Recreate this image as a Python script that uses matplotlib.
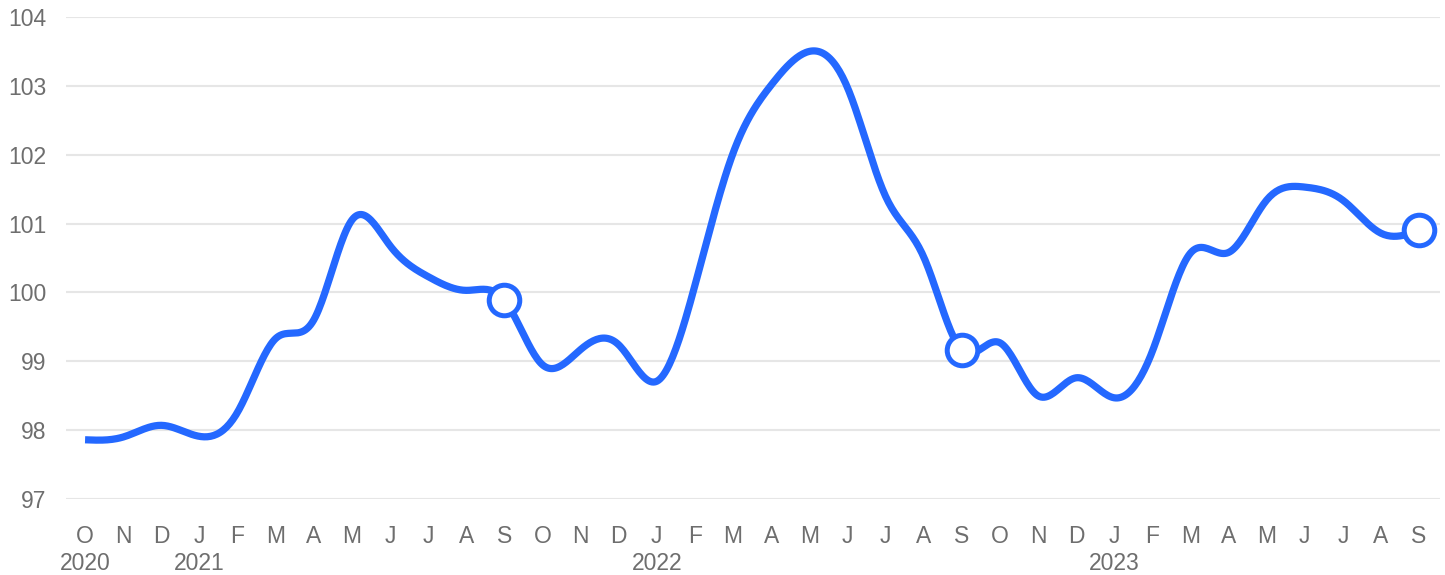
import numpy as np
import matplotlib
matplotlib.use("Agg")
import matplotlib.pyplot as plt

months = ['O', 'N', 'D', 'J', 'F', 'M', 'A', 'M', 'J', 'J', 'A', 'S'] * 3
years = {0: '2020', 3: '2021', 15: '2022', 27: '2023'}
values = [97.86, 97.90, 98.07, 97.91, 98.26, 99.33, 99.60, 101.05, 100.68, 100.23,
          100.03, 99.89, 98.95, 99.17, 99.24, 98.71, 100.10, 102.02, 103.01, 103.50,
          102.98, 101.40, 100.52, 99.16, 99.27, 98.50, 98.76, 98.47, 99.14, 100.57,
          100.58, 101.34, 101.53, 101.34, 100.86, 100.90]
marker_idx = [11, 23, 35]
yticks = [97, 98, 99, 100, 101, 102, 103, 104]

LINE = '#2468FF'
GRID = '#E6E6E6'
TXT = '#6E6E6E'

plt.rcParams['font.family'] = ['Liberation Sans', 'DejaVu Sans']


def natural_spline(x, y, n=24):
    x = np.asarray(x, float)
    y = np.asarray(y, float)
    N = len(x)
    h = np.diff(x)
    A = np.zeros((N, N))
    r = np.zeros(N)
    A[0, 0] = A[-1, -1] = 1
    for i in range(1, N - 1):
        A[i, i - 1] = h[i - 1]
        A[i, i] = 2 * (h[i - 1] + h[i])
        A[i, i + 1] = h[i]
        r[i] = 3 * ((y[i + 1] - y[i]) / h[i] - (y[i] - y[i - 1]) / h[i - 1])
    c = np.linalg.solve(A, r)
    xs, ys = [], []
    for i in range(N - 1):
        b = (y[i + 1] - y[i]) / h[i] - h[i] * (2 * c[i] + c[i + 1]) / 3
        d = (c[i + 1] - c[i]) / (3 * h[i])
        t = np.linspace(0, h[i], n, endpoint=False)
        xs.append(x[i] + t)
        ys.append(y[i] + b * t + c[i] * t ** 2 + d * t ** 3)
    xs.append([x[-1]])
    ys.append([y[-1]])
    return np.concatenate(xs), np.concatenate(ys)


W, H = 1445, 575
fig = plt.figure(figsize=(W / 100, H / 100), dpi=100)
ax = fig.add_axes([66 / W, (H - 499) / H, (1440 - 66) / W, (499 - 17) / H])

x = np.arange(len(values))
sx, sy = natural_spline(x, values)
ax.plot(sx, sy, color=LINE, lw=5.2, solid_capstyle='butt', zorder=3, clip_on=False)
ax.plot(x[marker_idx], np.array(values)[marker_idx], 'o', ms=22, mfc='white',
        mec=LINE, mew=3.6, zorder=4, clip_on=False)

ax.set_xlim(-0.5, 35.55)
ax.set_ylim(97, 104)
ax.set_yticks(yticks)
ax.set_yticklabels([str(v) for v in yticks])
ax.grid(axis='y', color=GRID, lw=1.5, zorder=0)
ax.set_axisbelow(True)

labels = []
for i, m in enumerate(months):
    labels.append(m + ('\n' + years[i] if i in years else ''))
ax.set_xticks(x)
ax.set_xticklabels(labels, linespacing=1.2)

for s in ax.spines.values():
    s.set_visible(False)
ax.tick_params(axis='both', length=0, labelsize=16.5, colors=TXT)
ax.tick_params(axis='y', pad=14)
ax.tick_params(axis='x', pad=19)

fig.savefig('out.png', dpi=100, facecolor='white')
